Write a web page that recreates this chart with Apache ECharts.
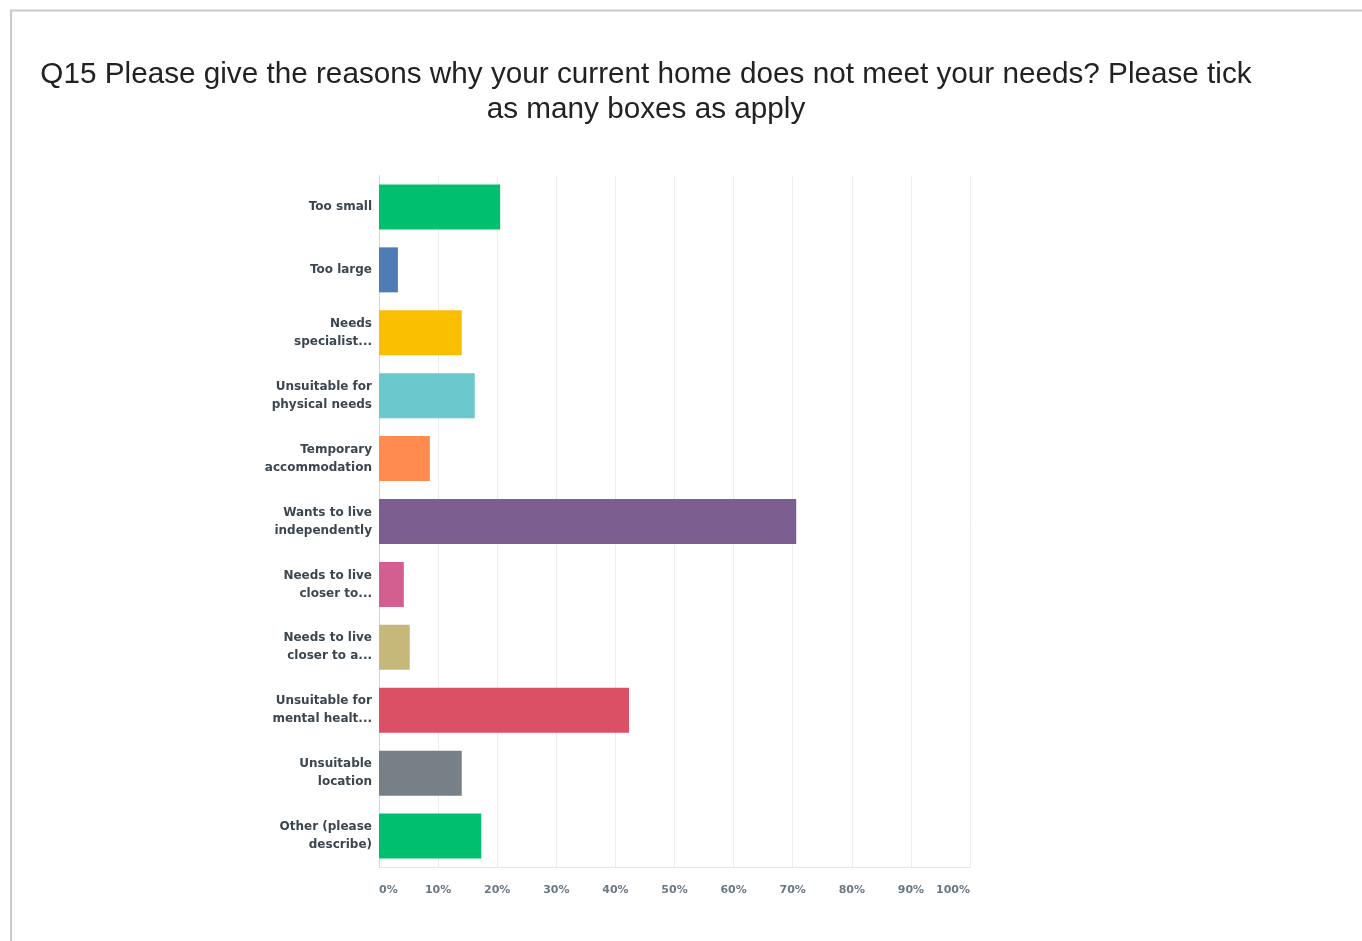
<!DOCTYPE html>
<html>
<head>
<meta charset="utf-8">
<script src="https://cdn.jsdelivr.net/npm/echarts@6/dist/echarts.min.js"></script>
<style>
  html, body { margin: 0; padding: 0; background: #ffffff; }
  #chart { width: 1362px; height: 941px; }
</style>
</head>
<body>
<div id="chart"></div>
<script>
// Reasons given (answer choices, as shown on the axis)
const categories = [
  'Too small',
  'Too large',
  'Needs\nspecialist...',
  'Unsuitable for\nphysical needs',
  'Temporary\naccommodation',
  'Wants to live\nindependently',
  'Needs to live\ncloser to...',
  'Needs to live\ncloser to a...',
  'Unsuitable for\nmental healt...',
  'Unsuitable\nlocation',
  'Other (please\ndescribe)'
];

// Share of respondents choosing each reason (%)
const percentages = [20.5, 3.2, 14.0, 16.2, 8.6, 70.6, 4.2, 5.2, 42.3, 14.0, 17.3];

// One colour per answer choice
const barColors = [
  '#00bf6f', '#507cb6', '#f9be00', '#6bc8cd', '#ff8b4f', '#7d5e90',
  '#d25f90', '#c6b879', '#dc5065', '#768086', '#00bf6f'
];

const titleLines = [
  'Q15 Please give the reasons why your current home does not meet your needs? Please tick',
  'as many boxes as apply'
];

const chart = echarts.init(document.getElementById('chart'), null, { renderer: 'canvas' });

chart.setOption({
  backgroundColor: '#ffffff',
  animation: false,
  title: {
    text: titleLines.join('\n'),
    left: 641,
    top: 52,
    textAlign: 'center',
    textStyle: {
      fontFamily: 'Liberation Sans, Arial, sans-serif',
      fontSize: 29.7,
      fontWeight: 'normal',
      color: '#222222',
      lineHeight: 35
    }
  },
  graphic: [
    {
      type: 'polyline',
      shape: { points: [[11, 941], [11, 10.5], [1362, 10.5]] },
      style: { stroke: '#c9c9d1', lineWidth: 2, fill: null },
      silent: true
    }
  ],
  grid: {
    left: 379,
    right: 392,
    top: 175.5,
    bottom: 73.5,
    containLabel: false
  },
  xAxis: {
    type: 'value',
    min: 0,
    max: 100,
    interval: 10,
    axisLine: { show: true, lineStyle: { color: '#e6e6e6', width: 1 } },
    axisTick: { show: false },
    splitLine: { show: true, lineStyle: { color: '#ececec', width: 1 } },
    axisLabel: {
      formatter: '{value}%',
      fontFamily: 'DejaVu Sans, sans-serif',
      fontSize: 11,
      fontWeight: 'bold',
      color: '#6b7884',
      margin: 17,
      alignMinLabel: 'left',
      alignMaxLabel: 'right'
    }
  },
  yAxis: {
    type: 'category',
    data: categories,
    inverse: true,
    axisLine: { show: true, lineStyle: { color: '#d6d6d6', width: 1 } },
    axisTick: { show: false },
    splitLine: { show: false },
    axisLabel: {
      fontFamily: 'DejaVu Sans, sans-serif',
      fontSize: 12,
      fontWeight: 'bold',
      color: '#3b4651',
      lineHeight: 18,
      margin: 7,
      align: 'right'
    }
  },
  series: [
    {
      type: 'bar',
      data: percentages.map((v, i) => ({ value: v, itemStyle: { color: barColors[i] } })),
      barWidth: 45,
      silent: true
    }
  ]
});
</script>
</body>
</html>
